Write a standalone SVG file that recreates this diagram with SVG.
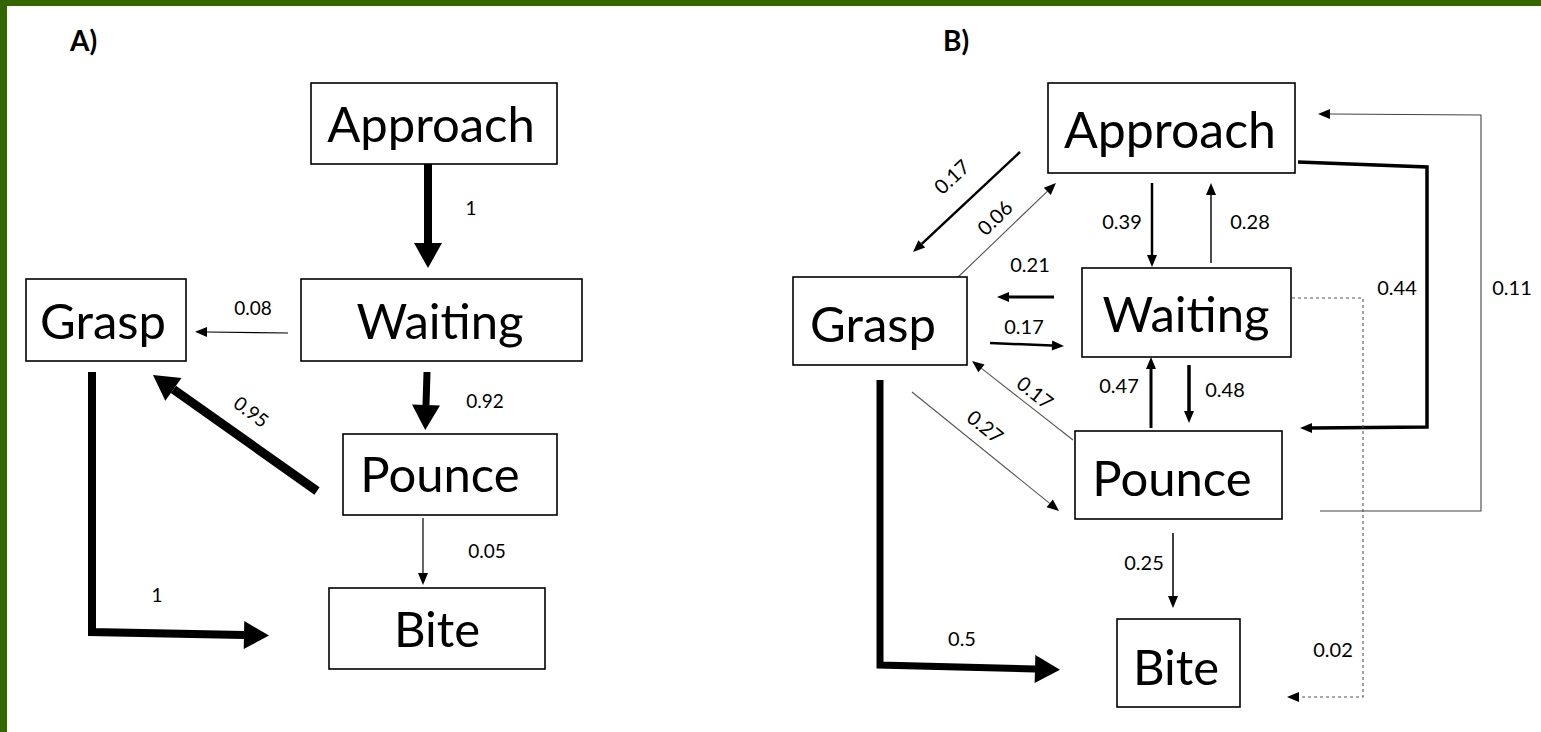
<svg xmlns="http://www.w3.org/2000/svg" width="1541" height="732" viewBox="0 0 1541 732">
<style>
.bg{fill:#ffffff}
.border{fill:#336600}
.box{fill:#ffffff;stroke:#000000;stroke-width:1.6}
.nt{font-family:Lato,"Liberation Sans",sans-serif;font-size:49px;fill:#000;text-anchor:middle}
.title{font-family:Lato,"Liberation Sans",sans-serif;font-size:28px;font-weight:bold;fill:#000}
.la{font-family:Lato,"Liberation Sans",sans-serif;font-size:19px;fill:#000;text-anchor:middle}
.lb{font-family:Lato,"Liberation Sans",sans-serif;font-size:20px;fill:#000;text-anchor:middle}
.thick{fill:none;stroke:#000;stroke-width:8;marker-end:url(#big)}
.med{fill:none;stroke:#000;stroke-width:2.8;marker-end:url(#sm)}
.thin{fill:none;stroke:#000;stroke-width:1.2;marker-end:url(#sm)}
.grey{fill:none;stroke:#555;stroke-width:1.1;marker-end:url(#sm)}
.dash{fill:none;stroke:#555;stroke-width:1.1;stroke-dasharray:3 3;marker-end:url(#sm)}
</style>
<defs>
<marker id="sm" markerUnits="userSpaceOnUse" orient="auto" refX="0" refY="0" markerWidth="14" markerHeight="12" overflow="visible">
<path d="M0,-5 L12,0 L0,5 Z" fill="#000"/>
</marker>
<marker id="big" markerUnits="userSpaceOnUse" orient="auto" refX="0" refY="0" markerWidth="28" markerHeight="30" overflow="visible">
<path d="M0,-14 L25,0 L0,14 Z" fill="#000"/>
</marker>
</defs>
<rect class="bg" x="0" y="0" width="1541" height="732"/>
<rect class="border" x="0" y="0" width="1541" height="6"/>
<rect class="border" x="0" y="0" width="7" height="732"/>

<text class="title" x="70" y="51">A)</text>
<text class="title" x="943" y="51">B)</text>

<g id="connectors">
<!-- Panel A -->
<path class="thick" d="M428,164 L428,243"/>
<path class="thin" d="M288,333 L207,332"/>
<path class="thick" style="stroke-width:7" d="M427,372 L426,405"/>
<path class="thick" style="stroke-width:9" d="M317,491 L173.4,389.4"/>
<path class="thin" d="M423,518 L423,573"/>
<path class="thick" d="M92,372 L92,632 L244,635"/>
<!-- Panel B -->
<path class="med" style="stroke-width:2.5" d="M1020,152 L921.8,243.8"/>
<path class="grey" d="M955,280 L1047.3,191.3"/>
<path class="med" style="stroke-width:2.5" d="M1152,183 L1152,255"/>
<path class="thin" style="stroke-width:1.4" d="M1211,263 L1211,195"/>
<path class="med" style="stroke-width:3" d="M1054,297 L1009,297"/>
<path class="med" style="stroke-width:2.5" d="M990,343 L1052,345.5"/>
<path class="med" style="stroke-width:3" d="M1151,428 L1151,369"/>
<path class="med" style="stroke-width:3.5" d="M1189,365 L1189,411"/>
<path class="grey" d="M1073,440 L981.5,368.4"/>
<path class="grey" d="M912,392 L1049.7,503.4"/>
<path class="med" style="stroke-width:3.5" d="M1298,162 L1427,167 L1427,427 L1312,428"/>
<path class="grey" style="stroke:#444" d="M1320,511 L1481,511 L1481,115 L1330,114"/>
<path class="dash" d="M1286,298 L1363,298 L1363,697 L1299,697"/>
<path class="thin" style="stroke-width:1.5" d="M1173,533 L1173,596"/>
<path class="thick" style="stroke-width:7;marker-end:url(#big)" d="M880,380 L880,665 L1035,669"/>
</g>

<g id="labels">
<text class="la" x="471" y="215">1</text>
<text class="la" x="253" y="315">0.08</text>
<text class="la" x="485" y="408">0.92</text>
<text class="la" transform="translate(251,412) rotate(37)" dy="0.35em">0.95</text>
<text class="la" x="487" y="558">0.05</text>
<text class="la" x="157" y="602">1</text>

<text class="lb" transform="translate(952,177) rotate(-43)" dy="0.35em">0.17</text>
<text class="lb" transform="translate(995,218) rotate(-44)" dy="0.35em">0.06</text>
<text class="lb" x="1122" y="229">0.39</text>
<text class="lb" x="1250" y="229">0.28</text>
<text class="lb" x="1030" y="272">0.21</text>
<text class="lb" x="1024" y="334">0.17</text>
<text class="lb" x="1119" y="393">0.47</text>
<text class="lb" x="1225" y="397">0.48</text>
<text class="lb" transform="translate(1035,393) rotate(38)" dy="0.35em">0.17</text>
<text class="lb" transform="translate(985,427) rotate(39)" dy="0.35em">0.27</text>
<text class="lb" x="1397" y="295">0.44</text>
<text class="lb" x="1512" y="295">0.11</text>
<text class="lb" x="1144" y="570">0.25</text>
<text class="lb" x="962" y="646">0.5</text>
<text class="lb" x="1333" y="657">0.02</text>
</g>

<g id="A-approach"><rect class="box" x="311" y="83" width="246" height="81"/><text class="nt" x="431" y="142">Approach</text></g>
<g id="A-waiting"><rect class="box" x="301" y="279" width="281" height="82"/><text class="nt" x="440" y="339">Waiting</text></g>
<g id="A-grasp"><rect class="box" x="26" y="279" width="160" height="82"/><text class="nt" x="103" y="339">Grasp</text></g>
<g id="A-pounce"><rect class="box" x="343" y="434" width="214" height="81"/><text class="nt" x="440" y="492">Pounce</text></g>
<g id="A-bite"><rect class="box" x="329" y="588" width="216" height="81"/><text class="nt" x="437" y="647">Bite</text></g>

<g id="B-approach"><rect class="box" x="1048" y="83" width="247" height="90"/><text class="nt" x="1170" y="148" style="font-size:50px">Approach</text></g>
<g id="B-waiting"><rect class="box" x="1082" y="268" width="209" height="89"/><text class="nt" x="1186" y="332">Waiting</text></g>
<g id="B-grasp"><rect class="box" x="793" y="277" width="174" height="88"/><text class="nt" x="873" y="342">Grasp</text></g>
<g id="B-pounce"><rect class="box" x="1075" y="431" width="207" height="88"/><text class="nt" x="1172" y="496">Pounce</text></g>
<g id="B-bite"><rect class="box" x="1117" y="619" width="123" height="88"/><text class="nt" x="1176" y="685">Bite</text></g>
</svg>
